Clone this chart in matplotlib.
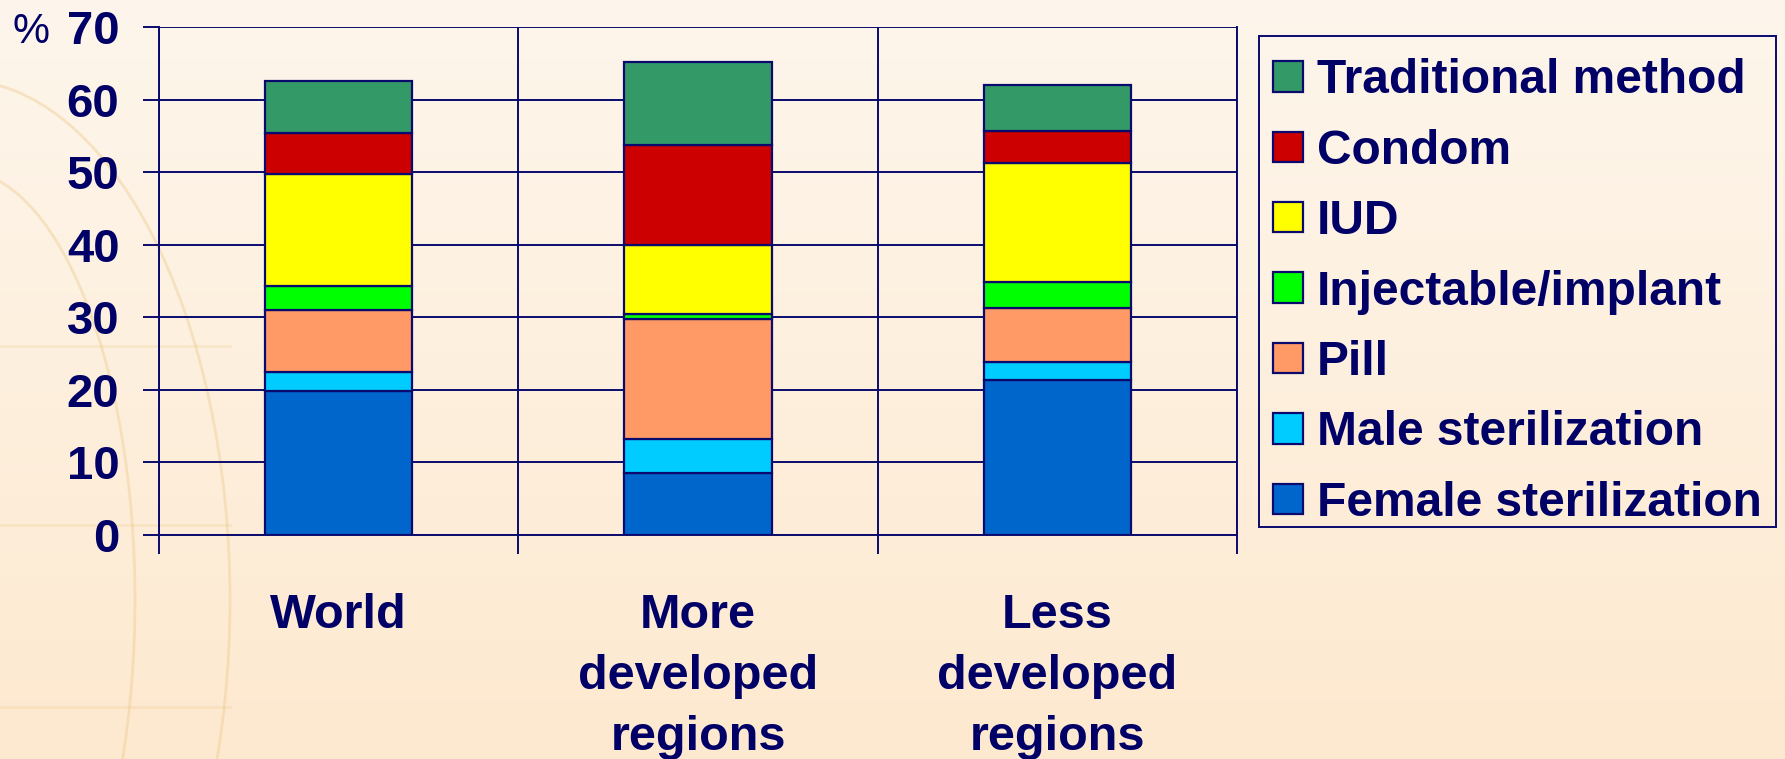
import numpy as np
import matplotlib
matplotlib.use("Agg")
import matplotlib.pyplot as plt
from matplotlib.patches import Patch, Arc, Rectangle

plt.rcParams['font.family'] = ['Liberation Sans', 'DejaVu Sans']

# ---- data ----
categories = ["World", "More\ndeveloped\nregions", "Less\ndeveloped\nregions"]
methods = ["Female sterilization", "Male sterilization", "Pill",
           "Injectable/implant", "IUD", "Condom", "Traditional method"]
female_sterilization = [19.8, 8.5, 21.4]
male_sterilization = [2.7, 4.7, 2.5]
pill = [8.5, 16.5, 7.4]
injectable_implant = [3.3, 0.7, 3.6]
iud = [15.4, 9.6, 16.4]
condom = [5.7, 13.7, 4.4]
traditional = [7.1, 11.5, 6.3]
series = [female_sterilization, male_sterilization, pill, injectable_implant,
          iud, condom, traditional]
colors = ["#0066CC", "#00CCFF", "#FF9966", "#00FF00", "#FFFF00", "#CC0000", "#339966"]
yticks = [0, 10, 20, 30, 40, 50, 60, 70]

NAVY = "#000066"
EDGE = "#0A0A6E"

W, H = 1785, 759
fig = plt.figure(figsize=(W / 100, H / 100), dpi=100)

# background gradient
bg = fig.add_axes([0, 0, 1, 1], zorder=-5)
top_c = np.array([254, 246, 236]) / 255
bot_c = np.array([253, 233, 207]) / 255
t = np.linspace(0, 1, 256)[:, None]
grad = top_c[None, :] * (1 - t[..., None]) + bot_c[None, :] * t[..., None]
grad = np.repeat(grad, 4, axis=1)
bg.imshow(grad, aspect='auto', extent=[0, W, 0, H], origin='upper')
# faint globe watermark on the left (pixel coords, y up)
for sw, sh in [(175, 430), (270, 520)]:
    bg.add_patch(Arc((-40, H - 600), 2 * sw, 2 * sh, theta1=-90, theta2=90,
                     color="#EDC98A", lw=2, alpha=0.4))
for yy in [346, 525, 707]:
    bg.plot([0, 230], [H - yy, H - yy], color="#EDC98A", lw=2, alpha=0.25)
bg.set_xlim(0, W)
bg.set_ylim(0, H)
bg.axis('off')

ax = fig.add_axes([159 / W, 1 - 535 / H, (1237 - 159) / W, (535 - 27) / H])
ax.set_facecolor('none')

x = np.arange(len(categories))
bottom = np.zeros(len(categories))
handles = []
for vals, c, name in zip(series, colors, methods):
    ax.bar(x, vals, width=0.41, bottom=bottom, color=c, edgecolor=EDGE,
           linewidth=1.6, zorder=3, label=name)
    bottom += np.array(vals)
    handles.append(Patch(facecolor=c, edgecolor=EDGE, linewidth=1.6, label=name))

ax.set_xlim(-0.5, 2.5)
ax.set_ylim(0, 70)
ax.set_yticks(yticks)
ax.set_yticklabels([str(v) for v in yticks])
ax.set_xticks(x)
ax.set_xticklabels(categories, linespacing=1.45)
ax.set_xticks([-0.5, 0.5, 1.5, 2.5], minor=True)

ax.grid(axis='y', which='major', color=EDGE, linewidth=1.4, zorder=0)
ax.grid(axis='x', which='minor', color=EDGE, linewidth=1.4, zorder=0)
ax.set_axisbelow(True)

ax.spines['top'].set_visible(False)
for s in ['left', 'right', 'bottom']:
    ax.spines[s].set_color(EDGE)
    ax.spines[s].set_linewidth(1.4)

ax.tick_params(axis='y', which='major', length=11.5, width=1.4, color=EDGE,
               direction='out', pad=17, labelsize=34, labelcolor=NAVY)
ax.tick_params(axis='x', which='major', length=0, pad=42, labelsize=35,
               labelcolor=NAVY)
ax.tick_params(axis='x', which='minor', length=13.5, width=1.4, color=EDGE,
               direction='out')
for lab in ax.get_yticklabels() + ax.get_xticklabels():
    lab.set_fontweight('bold')

fig.text(12 / W, 1 - 43 / H, "%", fontsize=30, color=NAVY, ha='left', va='baseline')

leg = fig.legend(handles=handles[::-1], loc='upper left',
                 bbox_to_anchor=(1259 / W, 1 - 44 / H),
                 fontsize=34.5, frameon=False,
                 handlelength=0.62, handleheight=0.6, handletextpad=0.28,
                 labelspacing=0.53, borderpad=0.3, borderaxespad=0)
for txt in leg.get_texts():
    txt.set_color(NAVY)
    txt.set_fontweight('bold')

# legend frame
fig.patches.append(Rectangle((1259 / W, 1 - 527 / H), (1776 - 1259) / W,
                             (527 - 36) / H, transform=fig.transFigure,
                             fill=False, edgecolor=EDGE, linewidth=1.4))

fig.savefig("out.png", dpi=100)
